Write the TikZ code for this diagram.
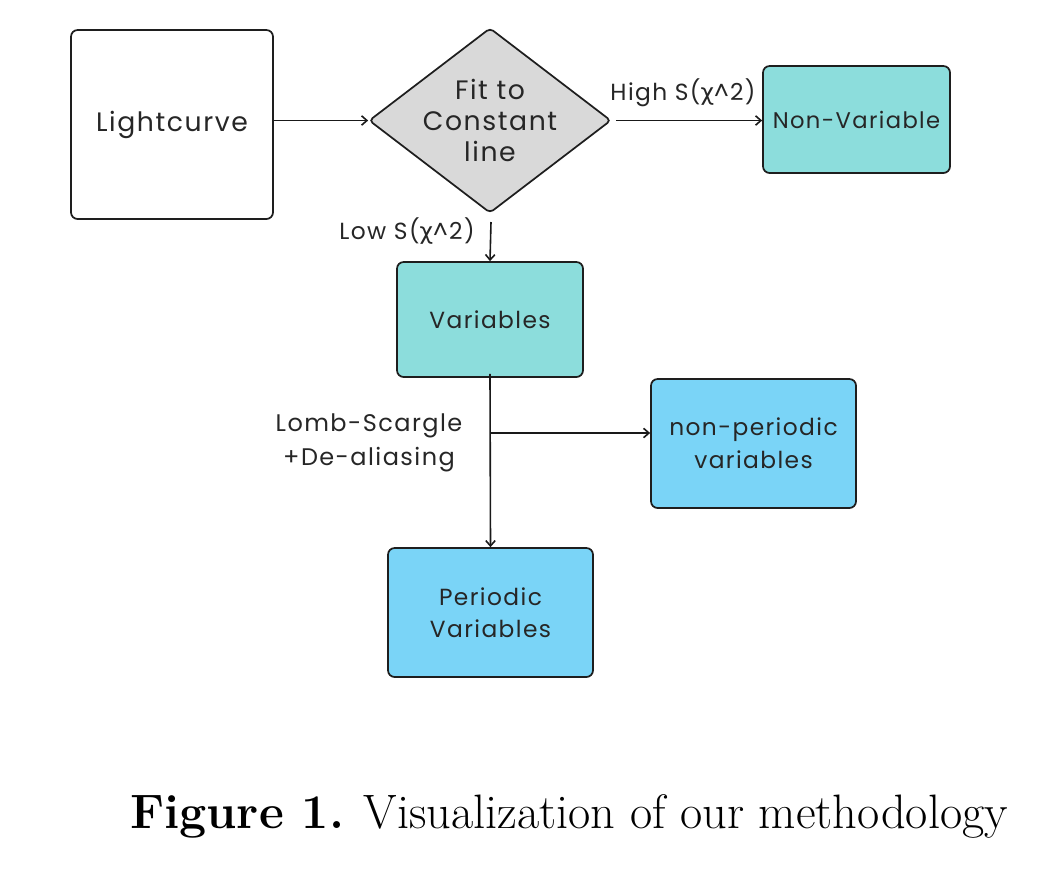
\documentclass[tikz,border=0pt]{standalone}
\usepackage{fontspec}
\usetikzlibrary{shapes.geometric,arrows.meta}
\newfontfamily\boxfont[LetterSpace=6]{Poppins}
\newfontfamily\greekfont{DejaVu Sans}
\newcommand{\chisym}{{\greekfont χ}}
\newcommand{\fs}[2]{\boxfont\fontsize{#1}{#2}\selectfont}
\definecolor{tealfill}{RGB}{140,221,220}
\definecolor{bluefill}{RGB}{122,212,247}
\definecolor{grayfill}{RGB}{217,217,217}
\definecolor{edge}{RGB}{30,30,30}
\tikzset{
  box/.style={draw=edge, line width=1.3pt, rounded corners=5pt, inner sep=0pt,
    align=center, font=\fs{17.5}{24}, text=black!85},
  decision/.style={diamond, draw=edge, line width=1.3pt, rounded corners=3pt,
    fill=grayfill, inner sep=0pt},
  dtext/.style={inner sep=0pt, align=center, font=\fs{20}{23.25}, text=black!85},
  arr/.style={-{Straight Barb[length=4pt,width=7pt]}, line width=1.2pt, draw=black!90},
  lbl/.style={font=\fs{17.5}{26}, text=black!85, inner sep=0pt, align=center},
}
\begin{document}
\begin{tikzpicture}[x=0.75pt,y=-0.75pt]
\useasboundingbox (0,0) rectangle (1047,869);

% boxes
\node[box, fill=white, minimum width=151.5pt, minimum height=141.75pt, font=\fs{20}{24}] (light) at (172,124.5) {Lightcurve};
\node[decision, minimum width=181.5pt, minimum height=138.75pt] (dia) at (490,120.5) {};
\node[dtext] (diatext) at (dia.center) {Fit to\\Constant\\line};
\node[box, fill=tealfill, minimum width=140.25pt, minimum height=80.25pt, font=\fs{17}{24}] (nonvar) at (856.5,119.5) {Non-Variable};
\node[box, fill=tealfill, minimum width=139.5pt, minimum height=86.25pt] (vars) at (490,319.5) {Variables};
\node[box, fill=bluefill, minimum width=153.75pt, minimum height=96.75pt, font=\fs{17.5}{24.75}] (npv) at (753.5,443.5) {non-periodic\\variables};
\node[box, fill=bluefill, minimum width=153.75pt, minimum height=96.75pt] (per) at (490.5,612.5) {Periodic\\Variables};

% connectors
\coordinate (lowstart) at (491,222);
\coordinate (split) at (490,433);
\draw[arr] (light.east |- dia.west) -- (dia.west);
\draw[arr] ([xshift=3pt]dia.east) -- (nonvar.west |- dia.east);
\draw[arr] (lowstart) -- (vars.north);
\draw[arr] ([yshift=3pt]vars.south) -- (per.north);
\draw[arr] (split) -- (npv.west |- split);

% labels
\node[lbl] (hilbl) at (683,93) {High S(\chisym\textasciicircum 2)};
\node[lbl] (lolbl) at (407,231) {Low S(\chisym\textasciicircum 2)};
\node[lbl, font=\fs{18}{26}] (lslbl) at (369,443) {Lomb-Scargle\\+De-aliasing};

% caption
\node[anchor=base, inner sep=0pt, font=\fontsize{36.25}{40}\selectfont] (cap) at (569,828)
  {\textbf{Figure 1.} Visualization of our methodology};
\end{tikzpicture}
\end{document}
